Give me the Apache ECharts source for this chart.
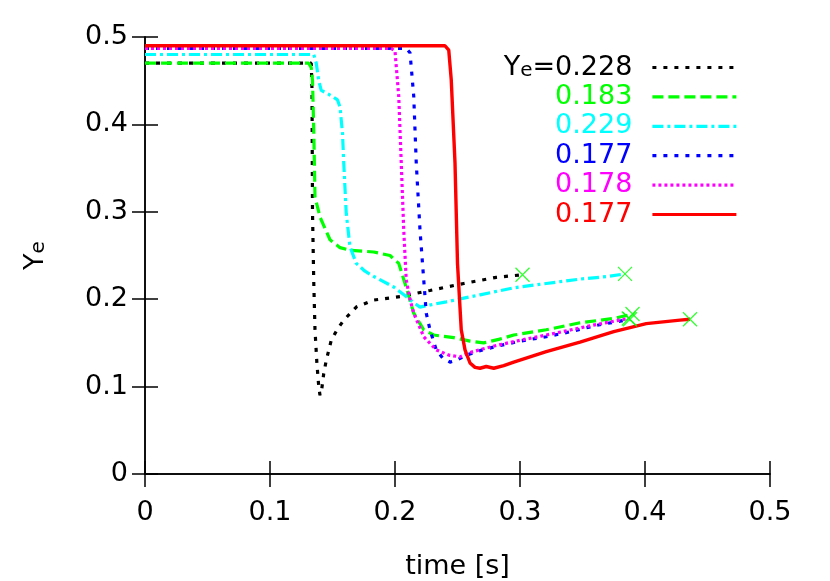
<!DOCTYPE html>
<html><head><meta charset="utf-8">
<script src="https://cdn.jsdelivr.net/npm/echarts@6/dist/echarts.min.js"></script>
<style>html,body{margin:0;padding:0;background:#fff}#c{width:830px;height:581px}</style>
</head><body><div id="c"></div>
<script>
const xTicks = [0, 0.1, 0.2, 0.3, 0.4, 0.5];
const yTicks = [0, 0.1, 0.2, 0.3, 0.4, 0.5];
const legendLabels = ['Y_e=0.228', '0.183', '0.229', '0.177', '0.178', '0.177'];

const t1 = [0, 0.133, 0.1336, 0.134, 0.135, 0.136, 0.1375, 0.139, 0.140, 0.1413, 0.143, 0.145, 0.149, 0.154, 0.159, 0.169, 0.183, 0.204, 0.228, 0.255, 0.281, 0.302];
const y1 = [0.47, 0.47, 0.44, 0.30, 0.22, 0.165, 0.127, 0.10, 0.09, 0.096, 0.115, 0.13, 0.153, 0.166, 0.176, 0.191, 0.199, 0.203, 0.21, 0.218, 0.225, 0.228];

const t2 = [0, 0.131, 0.133, 0.134, 0.135, 0.136, 0.14, 0.148, 0.156, 0.164, 0.183, 0.196, 0.203, 0.208, 0.215, 0.223, 0.231, 0.247, 0.26, 0.271, 0.283, 0.295, 0.321, 0.348, 0.375, 0.39];
const y2 = [0.47, 0.47, 0.465, 0.45, 0.394, 0.317, 0.294, 0.268, 0.259, 0.256, 0.254, 0.25, 0.241, 0.218, 0.184, 0.165, 0.159, 0.156, 0.152, 0.15, 0.154, 0.159, 0.165, 0.173, 0.178, 0.183];

const t3 = [0, 0.135, 0.137, 0.139, 0.141, 0.15, 0.154, 0.156, 0.158, 0.159, 0.161, 0.164, 0.169, 0.176, 0.183, 0.199, 0.209, 0.215, 0.22, 0.23, 0.241, 0.268, 0.295, 0.321, 0.348, 0.37, 0.384];
const y3 = [0.48, 0.48, 0.47, 0.45, 0.439, 0.432, 0.428, 0.42, 0.39, 0.356, 0.298, 0.26, 0.241, 0.232, 0.226, 0.214, 0.203, 0.196, 0.191, 0.194, 0.197, 0.205, 0.213, 0.218, 0.223, 0.226, 0.229];

const t4 = [0, 0.209, 0.212, 0.215, 0.217, 0.22, 0.223, 0.225, 0.228, 0.233, 0.238, 0.244, 0.249, 0.257, 0.27, 0.281, 0.3, 0.321, 0.341, 0.361, 0.388];
const y4 = [0.487, 0.487, 0.482, 0.432, 0.356, 0.279, 0.222, 0.184, 0.165, 0.142, 0.133, 0.128, 0.13, 0.136, 0.142, 0.146, 0.152, 0.157, 0.163, 0.17, 0.177];

const t5 = [0, 0.197, 0.2, 0.203, 0.205, 0.207, 0.209, 0.212, 0.215, 0.223, 0.233, 0.243, 0.252, 0.26, 0.27, 0.281, 0.3, 0.321, 0.341, 0.361, 0.387];
const y5 = [0.487, 0.487, 0.484, 0.432, 0.356, 0.279, 0.222, 0.2, 0.184, 0.157, 0.142, 0.136, 0.134, 0.139, 0.143, 0.147, 0.153, 0.159, 0.165, 0.171, 0.178];

const t6 = [0, 0.24, 0.243, 0.245, 0.248, 0.25, 0.253, 0.256, 0.26, 0.264, 0.268, 0.273, 0.279, 0.287, 0.295, 0.308, 0.321, 0.348, 0.375, 0.401, 0.428, 0.436];
const y6 = [0.49, 0.49, 0.485, 0.451, 0.356, 0.241, 0.165, 0.142, 0.127, 0.122, 0.121, 0.123, 0.121, 0.124, 0.128, 0.134, 0.14, 0.151, 0.163, 0.172, 0.176, 0.177];

const times = [t1, t2, t3, t4, t5, t6];
const values = [y1, y2, y3, y4, y5, y6];
const colors = ['#000000', '#00ff00', '#00ffff', '#0000ff', '#ff00ff', '#ff0000'];
const dashes = [[4, 7], [11, 5], [11, 4, 3, 4], [4, 7], [3, 3], 'solid'];
const widths = [3.2, 3.2, 3.2, 3.2, 3.2, 3.4];
const names = ['s1', 's2', 's3', 's4', 's5', 's6'];

const FONT = 'DejaVu Sans';
const FS = 27;
const pairs = times.map((t, i) => t.map((x, j) => [x, values[i][j]]));

const series = pairs.map((d, i) => ({
  name: names[i], type: 'line', data: d, symbol: 'none', smooth: false,
  lineStyle: { color: colors[i], width: widths[i], type: dashes[i] },
  itemStyle: { color: colors[i] }, z: 2 + i, animation: false
}));
series.push({
  name: 'ends', type: 'scatter', symbol: 'path://M0,0L10,10M10,0L0,10', symbolSize: 14,
  data: pairs.map(d => d[d.length - 1]),
  itemStyle: { color: 'transparent', borderColor: '#00ff00', borderWidth: 1.3 },
  z: 20, animation: false
});

const axisCommon = {
  type: 'value', min: 0, max: 0.5, interval: 0.1,
  axisLine: { show: true, lineStyle: { color: '#000', width: 1.5 } },
  axisTick: { show: true, inside: true, length: 13, lineStyle: { color: '#000', width: 1.5 } },
  splitLine: { show: false }
};

const chart = echarts.init(document.getElementById('c'));
chart.setOption({
  animation: false,
  backgroundColor: '#fff',
  grid: { left: 145, right: 60, top: 37, bottom: 107, containLabel: false, outerBoundsMode: 'none' },
  xAxis: [
    Object.assign({}, axisCommon, {
      position: 'bottom',
      name: 'time [s]', nameLocation: 'middle', nameGap: 79,
      nameTextStyle: { fontFamily: FONT, fontSize: FS, color: '#000' },
      axisLabel: { fontFamily: FONT, fontSize: FS, color: '#000', margin: 25,
        formatter: v => { const k = xTicks.find(a => Math.abs(a - v) < 1e-9); return k === undefined ? '' : String(k); } }
    }),
    Object.assign({}, axisCommon, { position: 'top', axisLabel: { show: false } })
  ],
  yAxis: [
    Object.assign({}, axisCommon, {
      position: 'left',
      name: '{y|Y}{e|e}', nameLocation: 'middle', nameGap: 96,
      nameTextStyle: { fontFamily: FONT, fontSize: FS, color: '#000',
        rich: { y: { fontFamily: FONT, fontSize: FS, color: '#000', lineHeight: 27 },
                e: { fontFamily: FONT, fontSize: 20, color: '#000', lineHeight: 10, verticalAlign: 'bottom' } } },
      axisLabel: { fontFamily: FONT, fontSize: FS, color: '#000', margin: 17,
        formatter: v => { const k = yTicks.find(a => Math.abs(a - v) < 1e-9); return k === undefined ? '' : String(k); } }
    }),
    Object.assign({}, axisCommon, { position: 'right', axisLabel: { show: false } })
  ],
  legend: {
    orient: 'vertical', right: 87, top: 49, align: 'right',
    itemWidth: 84, itemHeight: 14, itemGap: 2.4,
    itemStyle: { opacity: 0, borderWidth: 0 },
    lineStyle: { width: 3.2 },
    data: names.map((n, i) => ({ name: n, textStyle: { color: colors[i] } })),
    formatter: n => {
      const lab = legendLabels[names.indexOf(n)];
      if (lab.indexOf('Y_e') === 0) return '{n|Y}{s|e}{n|' + lab.slice(3) + '}';
      return lab;
    },
    textStyle: { fontFamily: FONT, fontSize: FS, lineHeight: 27, padding: [0, 15, 0, 0],
      rich: { n: { fontFamily: FONT, fontSize: FS, color: '#000', lineHeight: 27 },
              s: { fontFamily: FONT, fontSize: 20, color: '#000', lineHeight: 10, verticalAlign: 'bottom' } } },
    selectedMode: false
  },
  series: series
});
</script></body></html>
